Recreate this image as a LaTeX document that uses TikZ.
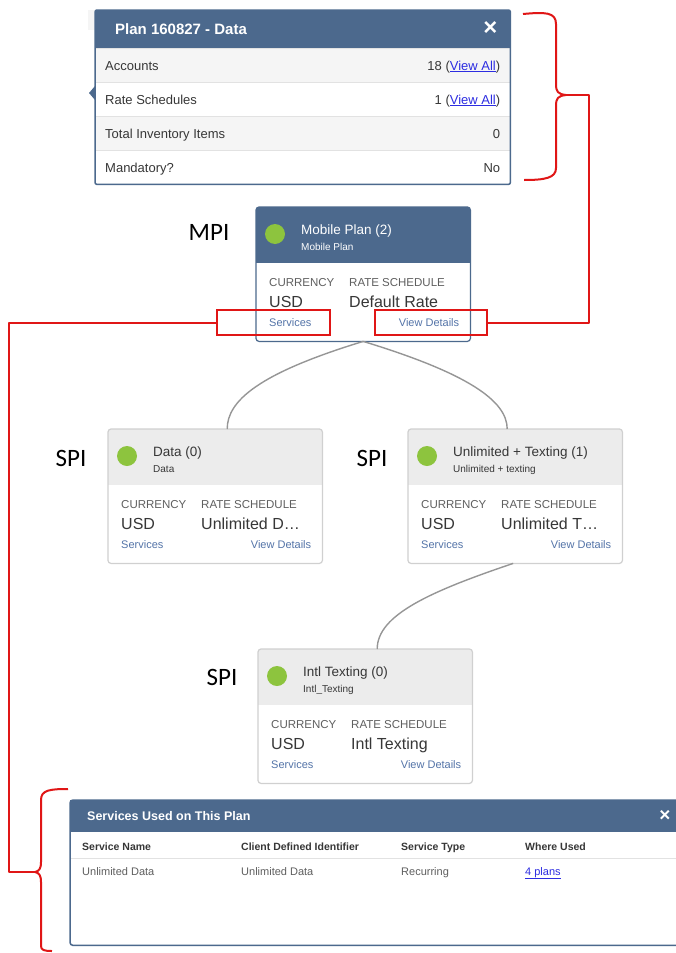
\documentclass[tikz,border=0pt]{standalone}
\usepackage{fontspec}
\setmainfont{Liberation Sans}
\newfontfamily\levelfont{Carlito}
\usetikzlibrary{calc}

\definecolor{planblue}{RGB}{76,105,141}
\definecolor{headgrey}{RGB}{236,236,236}
\definecolor{rowgrey}{RGB}{245,245,245}
\definecolor{rowline}{RGB}{226,226,226}
\definecolor{cardgrey}{RGB}{208,208,208}
\definecolor{dotgreen}{RGB}{141,196,62}
\definecolor{linkgrey}{RGB}{84,116,168}
\definecolor{linkblue}{RGB}{45,45,225}
\definecolor{textdark}{RGB}{55,55,55}
\definecolor{textgrey}{RGB}{95,95,95}
\definecolor{treegrey}{RGB}{150,150,150}
\definecolor{markred}{RGB}{224,22,22}

\newcommand{\weblink}[1]{\textcolor{linkblue}{\underline{#1}}}

\begin{document}
\begin{tikzpicture}[
        x=1pt, y=-1pt,
        card/.style={rectangle,anchor=north west,minimum width=214pt,minimum height=134pt,inner sep=0pt,fill=white},
        redbox/.style={draw=markred,line width=2pt,inner sep=0pt,minimum height=25pt},
        redline/.style={draw=markred,line width=2pt,line join=round},
        tree/.style={draw=treegrey,line width=1.4pt},
        ptext/.style={font=\fontsize{13}{15}\selectfont,text=textdark,inner sep=0pt},
        headtext/.style={font=\bfseries\fontsize{15}{17}\selectfont,text=white,inner sep=0pt,anchor=base west},
        closex/.style={font=\bfseries\fontsize{24}{24}\selectfont,text=white,inner sep=0pt},
        cardtitle/.style={font=\fontsize{13.5}{15}\selectfont,inner sep=0pt,anchor=base west},
        cardsub/.style={font=\fontsize{10}{12}\selectfont,inner sep=0pt,anchor=base west},
        cardcap/.style={font=\fontsize{11.5}{13}\selectfont,text=textgrey,inner sep=0pt,anchor=base west},
        cardval/.style={font=\fontsize{16}{18}\selectfont,text=textdark,inner sep=0pt,anchor=base west},
        cardlink/.style={font=\fontsize{11}{13}\selectfont,text=linkgrey,inner sep=0pt},
        level/.style={font=\levelfont\fontsize{25}{28}\selectfont,text=black,inner sep=0pt},
        colhead/.style={font=\bfseries\fontsize{10.5}{12}\selectfont,text=textdark,anchor=base west,inner sep=0pt},
        colcell/.style={font=\fontsize{11}{13}\selectfont,text=textgrey,anchor=base west,inner sep=0pt},
    ]
    \useasboundingbox[fill=white] (0,0) rectangle (675,953);

    % First the plan pop-up at the top
    \fill[black!4] (88,10) rectangle (95,30);
    \node[rectangle,anchor=north west,minimum width=415pt,minimum height=174pt,inner sep=0pt,fill=white] (plan) at (95,10) {};
    \fill[planblue] (plan.north west) rectangle ([yshift=-38pt]plan.north east);
    \foreach \lab/\val/\bg [count=\i] in {
            {Accounts/18 (\weblink{View All})/rowgrey},
            {Rate Schedules/1 (\weblink{View All})/white},
            {Total Inventory Items/0/rowgrey},
            {Mandatory?/No/white}}
        {
        \fill[\bg] ($(plan.north west)+(0,4+34*\i)$) rectangle ++(415,34);
        \draw[rowline] ($(plan.north west)+(0,4+34*\i)$) -- ++(415,0);
        \node[ptext,anchor=base west] (row\i) at ($(plan.north west)+(10,26+34*\i)$) {\lab};
        \node[ptext,anchor=base east] (val\i) at ($(plan.north east)+(-10,26+34*\i)$) {\val};
        }
    \draw[planblue,line width=1.5pt,rounded corners=2pt] (plan.north west) rectangle (plan.south east);
    \fill[planblue] (95,86) -- (89,93) -- (95,100) -- cycle;
    \node[headtext] (plantitle) at ($(plan.north west)+(20,24.5)$) {Plan 160827 - Data};
    \node[closex] (planclose) at ($(plan.north east)+(-20,19)$) {×};

    % Plan cards of the tree
    \foreach \name/\px/\py/\hd/\tc/\bd/\title/\sub/\rate in {
            {mpi/256/207/planblue/white/planblue/Mobile Plan (2)/Mobile Plan/Default Rate},
            {data/108/429/headgrey/textdark/cardgrey/Data (0)/Data/Unlimited D\ldots},
            {unl/408/429/headgrey/textdark/cardgrey/Unlimited + Texting (1)/Unlimited + texting/Unlimited T\ldots},
            {intl/258/649/headgrey/textdark/cardgrey/Intl Texting (0)/Intl\_Texting/Intl Texting}}
        {
        \node[card] (\name) at (\px,\py) {};
        \begin{scope}
            \clip[rounded corners=3pt] (\name.north west) rectangle (\name.south east);
            \fill[\hd] (\name.north west) rectangle ([yshift=-56pt]\name.north east);
        \end{scope}
        \draw[\bd,line width=1.2pt,rounded corners=3pt] (\name.north west) rectangle (\name.south east);
        \fill[dotgreen] ([xshift=19pt,yshift=-27pt]\name.north west) circle (10pt);
        \node[cardtitle,text=\tc] (\name-title) at ([xshift=45pt,yshift=-27pt]\name.north west) {\title};
        \node[cardsub,text=\tc] (\name-sub) at ([xshift=45pt,yshift=-43pt]\name.north west) {\sub};
        \node[cardcap] (\name-cur) at ([xshift=13pt,yshift=-79pt]\name.north west) {CURRENCY};
        \node[cardval] (\name-usd) at ([xshift=13pt,yshift=-100pt]\name.north west) {USD};
        \node[cardcap] (\name-rs) at ([xshift=93pt,yshift=-79pt]\name.north west) {RATE SCHEDULE};
        \node[cardval] (\name-rate) at ([xshift=93pt,yshift=-100pt]\name.north west) {\rate};
        \node[cardlink,anchor=base west] (\name-svc) at ([xshift=13pt,yshift=-119pt]\name.north west) {Services};
        \node[cardlink,anchor=base east] (\name-det) at ([xshift=-11pt,yshift=-119pt]\name.north east) {View Details};
        }

    % Level labels
    \node[level] (mpilabel) at (209,232) {MPI};
    \node[level] (datalabel) at (71,458) {SPI};
    \node[level] (unllabel) at (372,458) {SPI};
    \node[level] (intllabel) at (222,677) {SPI};

    % Tree connectors
    \draw[tree] (mpi.south) .. controls ($(mpi.south)+(-105,32)$) and ($(data.north)+(12,-28)$) .. ([xshift=12pt]data.north);
    \draw[tree] (mpi.south) .. controls ($(mpi.south)+(105,32)$) and ($(unl.north)+(-8,-28)$) .. ([xshift=-8pt]unl.north);
    \draw[tree] ([xshift=-2pt]unl.south) .. controls ($(unl.south)+(-85,28)$) and ($(intl.north)+(12,-34)$) .. ([xshift=12pt]intl.north);

    % Services pop-up at the bottom
    \node[rectangle,anchor=north west,minimum width=612pt,minimum height=145pt,inner sep=0pt,fill=white] (svcpanel) at (70,800) {};
    \fill[planblue] (svcpanel.north west) rectangle ([yshift=-32pt]svcpanel.north east);
    \draw[rowline] ([yshift=-58pt]svcpanel.north west) -- ([yshift=-58pt]svcpanel.north east);
    \draw[planblue,line width=1.5pt,rounded corners=3pt] (svcpanel.north west) rectangle (svcpanel.south east);
    \node[headtext,font=\bfseries\fontsize{12.5}{14}\selectfont] (svctitle) at (87,820.5) {Services Used on This Plan};
    \node[closex,font=\bfseries\fontsize{19}{19}\selectfont] (svcclose) at (665,816) {×};
    \foreach \px/\head/\cell [count=\i] in {
            {82/Service Name/Unlimited Data},
            {241/Client Defined Identifier/Unlimited Data},
            {401/Service Type/Recurring},
            {525/Where Used/\weblink{4 plans}}}
        {
        \node[colhead] (col\i) at (\px,850) {\head};
        \node[colcell] (cell\i) at (\px,875) {\cell};
        }

    % Red marks
    \node[redbox,minimum width=113pt] (svcbox) at (273.5,322.5) {};
    \node[redbox,minimum width=112pt] (detbox) at (431,322.5) {};
    \coordinate (plantip) at (566,95);
    \coordinate (svctip) at (35,872);
    \draw[redline] (523,14) .. controls (545,12) and (556,12) .. (556,24) -- (556,84)
        .. controls (556,92) and (558,94) .. (plantip)
        .. controls (558,96) and (556,98) .. (556,106) -- (556,168)
        .. controls (556,178) and (545,180) .. (524,180);
    \draw[redline] (68,789) .. controls (50,789) and (41,790) .. (41,800) -- (41,862)
        .. controls (41,869) and (39,871) .. (svctip)
        .. controls (39,873) and (41,875) .. (41,882) -- (41,946)
        .. controls (41,950) and (44,951) .. (52,951);
    \draw[redline] (detbox.east) -- ++(101,0) |- (plantip);
    \draw[redline] (svcbox.west) -- ++(-207,0) |- (svctip);
\end{tikzpicture}
\end{document}
